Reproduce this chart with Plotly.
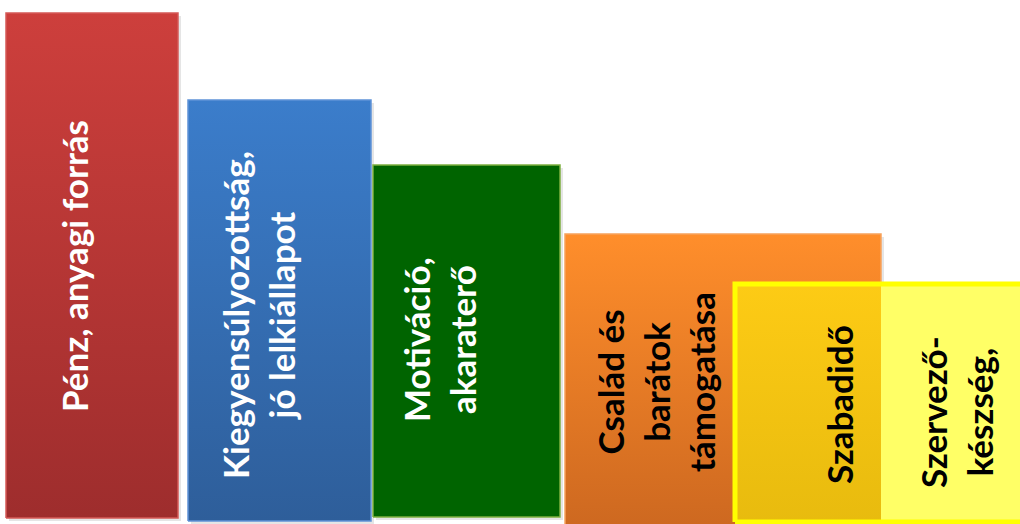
import plotly.graph_objects as go

# Factors, tallest first; each block spans from its base up to its value
labels = [
    "Pénz, anyagi forrás",
    "Kiegyensúlyozottság,<br>jó lelkiállapot",
    "Motiváció,<br>akaraterő",
    "Család és<br>barátok<br>támogatása",
    "Szabadidő",
    "Szervező-<br>készség,",
]
values = [507, 420, 355, 286, 236, 236]
bases = [2, -1, 3, -10, -2, -2]

# Layout of the blocks (horizontal extents in axis units)
x_left = [6, 188, 373, 565, 735, 881]
x_right = [178, 371, 560, 881, 881, 1032]

# Fill gradients (bottom colour, top colour) and outlines
fill_bottom = ["#9E2D2D", "#2E5E9A", "#006400", "#CD6820", "#E8BB0E", "#FFFF66"]
fill_top = ["#CD3F3C", "#3B7DCB", "#006400", "#FF8E2B", "#FDCB15", "#FFFF66"]
edge_color = ["#D55A57", "#5F93D8", "#7DB040", "#F7A35C", "rgba(0,0,0,0)", "rgba(0,0,0,0)"]
text_color = ["white", "white", "white", "black", "black", "black"]

# Label centres
label_x = [74, 258, 439, 655, 839, 956]
label_y = [254, 205, 180, 138, 115, 108]

FONT = "Lato"
FONT_SIZE = 35

fig = go.Figure()


def block_outline(i, dx=0.0, dy=0.0):
    x0, x1 = x_left[i] + dx, x_right[i] + dx
    y0, y1 = bases[i] - dy, values[i] - dy
    return [x0, x1, x1, x0, x0], [y0, y0, y1, y1, y0]


for i in range(len(labels)):
    # soft drop shadow
    sx, sy = block_outline(i, 3, 3)
    fig.add_trace(go.Scatter(
        x=sx, y=sy, mode="lines", fill="toself",
        fillcolor="rgba(0,0,0,0.10)", line=dict(width=0),
        hoverinfo="skip", showlegend=False,
    ))
    bx, by = block_outline(i)
    fig.add_trace(go.Scatter(
        x=bx, y=by, mode="lines", fill="toself",
        fillgradient=dict(type="vertical",
                          colorscale=[[0, fill_bottom[i]], [1, fill_top[i]]]),
        line=dict(color=edge_color[i], width=1.5),
        hoverinfo="skip", showlegend=False,
    ))

# Yellow frame around the last two factors
fx0, fx1 = x_left[4], x_right[5]
fy0, fy1 = bases[4], values[4]
fig.add_trace(go.Scatter(
    x=[fx0, fx1, fx1, fx0, fx0], y=[fy0, fy0, fy1, fy1, fy0],
    mode="lines", line=dict(color="#FFFF00", width=5),
    hoverinfo="skip", showlegend=False,
))

for i, lab in enumerate(labels):
    fig.add_annotation(
        x=label_x[i], y=label_y[i], xref="x", yref="y",
        text=lab, textangle=-90, showarrow=False,
        xanchor="center", yanchor="middle", align="center",
        font=dict(family=FONT, size=FONT_SIZE, color=text_color[i], weight="bold"),
    )

fig.update_layout(
    width=1020, height=524,
    margin=dict(l=0, r=0, t=0, b=0),
    paper_bgcolor="white", plot_bgcolor="white",
    xaxis=dict(range=[0, 1020], visible=False, fixedrange=True),
    yaxis=dict(range=[-4, 520], visible=False, fixedrange=True),
    showlegend=False,
)

fig.write_html("out.html")
